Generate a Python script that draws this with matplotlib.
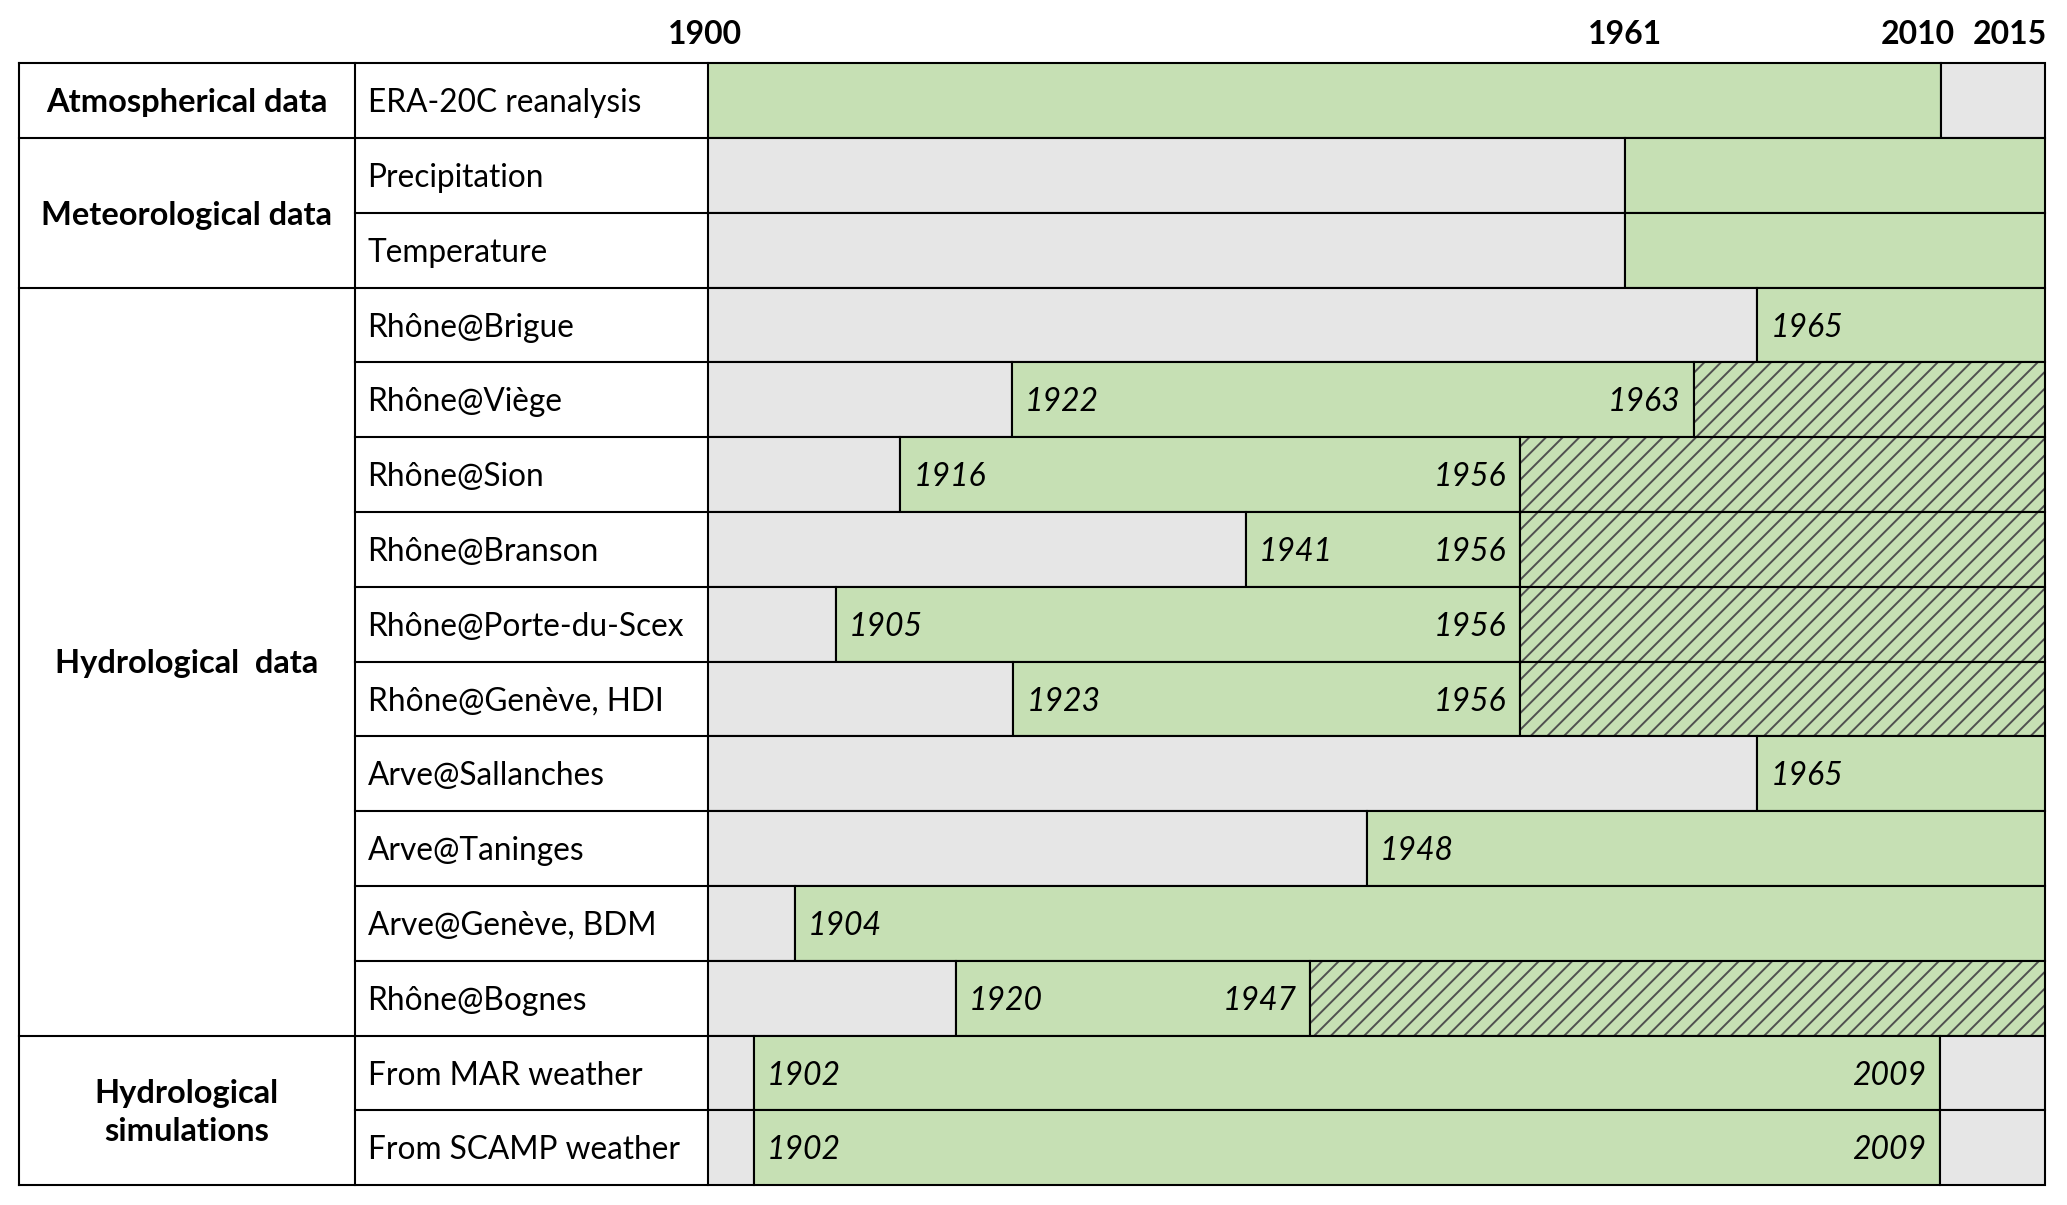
import numpy as np
import matplotlib
matplotlib.use("Agg")
import matplotlib.pyplot as plt

plt.rcParams['font.family'] = ['Lato', 'DejaVu Sans']
plt.rcParams['hatch.linewidth'] = 1.4

# ---------------- data ----------------
groups = ["Atmospherical data", "Meteorological data", "Hydrological  data",
          "Hydrological\nsimulations"]
group_sizes = [1, 2, 10, 2]
rows = ["ERA-20C reanalysis", "Precipitation", "Temperature", "Rhône@Brigue",
        "Rhône@Viège", "Rhône@Sion", "Rhône@Branson", "Rhône@Porte-du-Scex",
        "Rhône@Genève, HDI", "Arve@Sallanches", "Arve@Taninges",
        "Arve@Genève, BDM", "Rhône@Bognes", "From MAR weather",
        "From SCAMP weather"]
data_start = [1900, 1961, 1961, 1965, 1922, 1916, 1941, 1905, 1923, 1965,
              1948, 1904, 1920, 1902, 1902]
data_end = [2010, 2015, 2015, 2015, 1963, 1956, 1956, 1956, 1956, 2015,
            2015, 2015, 1947, 2009, 2009]
hatched_after = [False, False, False, False, True, True, True, True, True,
                 False, False, False, True, False, False]
show_start = [False, False, False, True, True, True, True, True, True, True,
              True, True, True, True, True]
show_end = [False, False, False, False, True, True, True, True, True, False,
            False, False, True, True, True]
period = (1900, 2015)
top_years = [1900, 1961, 2010, 2015]

# schematic (non-linear) time axis used by the original drawing
SCALE_YEARS = [1800, 1900, 1902, 1904, 1905, 1916, 1920, 1922, 1923, 1941,
               1947, 1948, 1956, 1961, 1963, 1965, 2009, 2010, 2015, 2200]
SCALE_POS = [537 - 100 * 8.8, 537, 572, 603, 634, 683, 725, 767.5, 768.5,
             945, 994, 1037, 1153, 1233, 1285, 1333, 1471.5, 1472.5, 1551,
             1551 + 185 * 8.8]


def fwd(x):
    return np.interp(x, SCALE_YEARS, SCALE_POS)


def inv(p):
    return np.interp(p, SCALE_POS, SCALE_YEARS)


GREEN = "#C6E0B4"
GREY = "#E6E6E6"
HATCH_COL = "#505050"
LW = 1.5
FS_ROW = 22.8
FS_GROUP = 23.5
FS_YEAR = 23
FS_TOP = 23
BASE = 0.155  # baseline offset below row centre (row units)

W, H = 2067, 1205
x0, xc, xt, x1 = 18.5, 354.6, 707.9, 2044.6
ytop, ybot = 63.3, 1185.1

fig = plt.figure(figsize=(W / 100, H / 100), dpi=100)
ax = fig.add_axes([xt / W, 1 - ybot / H, (x1 - xt) / W, (ybot - ytop) / H])
lax = fig.add_axes([x0 / W, 1 - ybot / H, (xt - x0) / W, (ybot - ytop) / H])

n = len(rows)
ax.set_xscale('function', functions=(fwd, inv))
ax.set_xlim(*period)
ax.set_ylim(n, 0)
ax.axis('off')

for i in range(n):
    yc = i + 0.5
    s, e = data_start[i], data_end[i]
    if s > period[0]:
        ax.barh(yc, s - period[0], left=period[0], height=1, color=GREY,
                edgecolor='black', linewidth=LW, clip_on=False)
    ax.barh(yc, e - s, left=s, height=1, color=GREEN, edgecolor='black',
            linewidth=LW, clip_on=False)
    if e < period[1]:
        if hatched_after[i]:
            ax.barh(yc, period[1] - e, left=e, height=1, color=GREEN,
                    edgecolor=HATCH_COL, hatch='//', linewidth=0,
                    clip_on=False)
            ax.barh(yc, period[1] - e, left=e, height=1, fill=False,
                    edgecolor='black', linewidth=LW, clip_on=False)
        else:
            ax.barh(yc, period[1] - e, left=e, height=1, color=GREY,
                    edgecolor='black', linewidth=LW, clip_on=False)
    if show_start[i]:
        ax.annotate(str(s), (s, yc + BASE), xytext=(9.5, 0),
                    textcoords='offset points', ha='left', va='baseline',
                    fontsize=FS_YEAR, style='italic')
    if show_end[i]:
        ax.annotate(str(e), (e, yc + BASE), xytext=(-10, 0),
                    textcoords='offset points', ha='right', va='baseline',
                    fontsize=FS_YEAR, style='italic')

# top year labels
offsets = {1900: ('center', -2), 1961: ('center', 0), 2010: ('center', -17),
           2015: ('right', 2)}
for yr in top_years:
    ha, dx = offsets[yr]
    ax.annotate(str(yr), (yr, 0), xytext=(dx, 21), textcoords='offset points',
                ha=ha, va='center', fontsize=FS_TOP, fontweight='bold',
                annotation_clip=False)

# left text columns
lax.set_xlim(x0, xt)
lax.set_ylim(n, 0)
lax.axis('off')
kw = dict(color='black', linewidth=LW, clip_on=False, solid_capstyle='projecting')
lax.plot([x0, x0], [0, n], **kw)
lax.plot([xc, xc], [0, n], **kw)
lax.plot([x0, xt], [0, 0], **kw)
lax.plot([x0, xt], [n, n], **kw)
for i in range(1, n):
    lax.plot([xc, xt], [i, i], **kw)
start = 0
for g, sz in zip(groups, group_sizes):
    if start > 0:
        lax.plot([x0, xc], [start, start], **kw)
    lax.text((x0 + xc) / 2, start + sz / 2 + 0.03, g, ha='center', va='center',
             fontsize=FS_GROUP, fontweight='bold', linespacing=1.4)
    start += sz
for i, r in enumerate(rows):
    lax.text(xc + 13, i + 0.5 + BASE, r, ha='left', va='baseline',
             fontsize=FS_ROW)

fig.savefig("out.png", dpi=100)
